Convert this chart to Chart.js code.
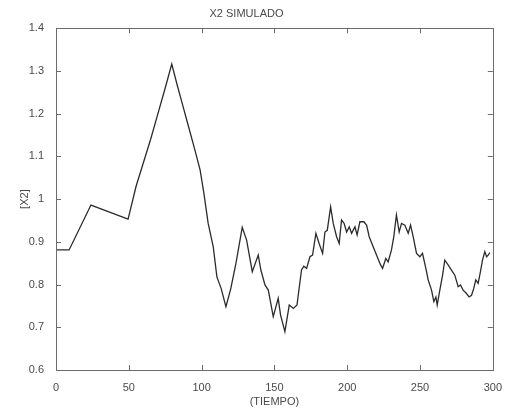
<!DOCTYPE html>
<html>
<head>
<meta charset="utf-8">
<script src="https://cdn.jsdelivr.net/npm/chart.js@4"></script>
<style>
    html, body { margin: 0; padding: 0; background: #fff; }
    #wrap { width: 505px; height: 412px; }
</style>
</head>
<body>
<div id="wrap"><canvas id="x2Chart"></canvas></div>
<script>
// Simulated X2 values
const tiempo = [0, 9, 24, 49.5, 55, 60, 65, 70, 75, 79.5,
    83, 87, 91, 95, 99, 101.6, 104.5, 108, 110.5, 113.5,
    116.7, 120, 123.6, 127.9, 130.9, 134.8, 138.9, 140.7, 143.5, 145.8,
    149.2, 152.6, 154.2, 157.2, 160.2, 163, 165.5, 168.6, 170.2, 172.1,
    174.4, 176.2, 178.5, 180.7, 183.1, 184.7, 186.3, 188.6, 190.4, 192.7,
    194.5, 196.1, 197.9, 199.6, 201.4, 203, 205.3, 206.8, 208.7, 211.4,
    213.3, 215.1, 217.9, 220.6, 222.9, 224.3, 226.5, 228.1, 230.4, 232,
    233.8, 235.7, 237.3, 239.6, 241.9, 243.5, 245.3, 247.6, 249.9, 251.7,
    254, 255.6, 257.9, 259.5, 260.9, 261.8, 263.6, 265.5, 267, 269.3,
    271.6, 273.9, 276.2, 277.8, 279.6, 281.9, 283.7, 285.4, 286.9, 288.3,
    289.9, 291.5, 292.9, 294.5, 295.7, 296.8, 298];

const x2 = [0.881, 0.881, 0.986, 0.953, 1.03, 1.085, 1.14, 1.2, 1.26, 1.316,
    1.27, 1.22, 1.17, 1.12, 1.068, 1.013, 0.943, 0.888, 0.818, 0.79,
    0.748, 0.79, 0.850, 0.934, 0.904, 0.830, 0.869, 0.834, 0.799, 0.787,
    0.725, 0.768, 0.729, 0.690, 0.752, 0.744, 0.752, 0.834, 0.843, 0.838,
    0.865, 0.869, 0.920, 0.896, 0.873, 0.923, 0.927, 0.982, 0.943, 0.912,
    0.896, 0.951, 0.943, 0.923, 0.935, 0.920, 0.935, 0.916, 0.947, 0.947,
    0.939, 0.912, 0.888, 0.865, 0.846, 0.838, 0.861, 0.853, 0.881, 0.912,
    0.963, 0.923, 0.943, 0.939, 0.920, 0.939, 0.912, 0.873, 0.865, 0.873,
    0.838, 0.811, 0.787, 0.760, 0.771, 0.752, 0.787, 0.822, 0.857, 0.846,
    0.834, 0.822, 0.795, 0.799, 0.787, 0.779, 0.771, 0.775, 0.791, 0.811,
    0.803, 0.830, 0.857, 0.877, 0.865, 0.869, 0.875];

const xTicks = [0, 50, 100, 150, 200, 250, 300];
const xTickLabels = ['0', '50', '100', '150', '200', '250', '300'];
const yTicks = [0.6, 0.7, 0.8, 0.9, 1.0, 1.1, 1.2, 1.3, 1.4];
const yTickLabels = ['0.6', '0.7', '0.8', '0.9', '1', '1.1', '1.2', '1.3', '1.4'];

const axisColor = '#6b6b6b';
const textColor = '#4a4a4a';
const fontFamily = '"Liberation Sans", Arial, sans-serif';

// Box round the plot and inward tick marks on all four sides
const boxPlugin = {
    id: 'matlabBox',
    afterDraw(chart) {
        const { ctx, chartArea: a, scales } = chart;
        const len = 5;
        ctx.save();
        ctx.strokeStyle = axisColor;
        ctx.lineWidth = 1;
        ctx.strokeRect(Math.round(a.left) + 0.5, Math.round(a.top) + 0.5,
            Math.round(a.right - a.left), Math.round(a.bottom - a.top));
        ctx.beginPath();
        xTicks.forEach(v => {
            const px = Math.round(scales.x.getPixelForValue(v)) + 0.5;
            ctx.moveTo(px, a.bottom); ctx.lineTo(px, a.bottom - len);
            ctx.moveTo(px, a.top); ctx.lineTo(px, a.top + len);
        });
        yTicks.forEach(v => {
            const py = Math.round(scales.y.getPixelForValue(v)) + 0.5;
            ctx.moveTo(a.left, py); ctx.lineTo(a.left + len, py);
            ctx.moveTo(a.right, py); ctx.lineTo(a.right - len, py);
        });
        ctx.stroke();
        ctx.restore();
    }
};

function initChart() {
    const ctx = document.getElementById('x2Chart').getContext('2d');
    new Chart(ctx, {
        type: 'line',
        data: {
            datasets: [{
                label: 'X2',
                data: tiempo.map((t, i) => ({ x: t, y: x2[i] })),
                borderColor: '#2b2b2b',
                borderWidth: 1.3,
                pointRadius: 0,
                tension: 0,
                fill: false
            }]
        },
        options: {
            responsive: true,
            maintainAspectRatio: false,
            animation: false,
            layout: { padding: { left: 0, right: 12, top: 0, bottom: 0 } },
            plugins: {
                legend: { display: false },
                tooltip: { enabled: false },
                title: {
                    display: true,
                    text: 'X2 SIMULADO',
                    color: textColor,
                    font: { family: fontFamily, size: 11, weight: 'normal' },
                    padding: { top: 7, bottom: 8 }
                }
            },
            scales: {
                x: {
                    type: 'linear',
                    min: 0,
                    max: 300,
                    afterBuildTicks: s => { s.ticks = xTicks.map(v => ({ value: v })); },
                    afterFit: s => { s.height = 42; },
                    grid: { display: false },
                    border: { display: false },
                    ticks: {
                        color: textColor,
                        font: { family: fontFamily, size: 11 },
                        padding: 3,
                        maxRotation: 0,
                        callback: (v, i) => xTickLabels[i]
                    },
                    title: {
                        display: true,
                        text: '(TIEMPO)',
                        color: textColor,
                        font: { family: fontFamily, size: 11 },
                        padding: { top: 0, bottom: 3 }
                    }
                },
                y: {
                    min: 0.6,
                    max: 1.4,
                    afterBuildTicks: s => { s.ticks = yTicks.map(v => ({ value: v })); },
                    afterFit: s => { s.width = 56; },
                    grid: { display: false },
                    border: { display: false },
                    ticks: {
                        color: textColor,
                        font: { family: fontFamily, size: 11 },
                        padding: 4,
                        callback: (v, i) => yTickLabels[i]
                    },
                    title: {
                        display: true,
                        text: '[X2]',
                        color: textColor,
                        font: { family: fontFamily, size: 11 },
                        padding: { top: 18, bottom: 0 }
                    }
                }
            }
        },
        plugins: [boxPlugin]
    });
}

window.addEventListener('load', () => {
    initChart();
});
</script>
</body>
</html>
